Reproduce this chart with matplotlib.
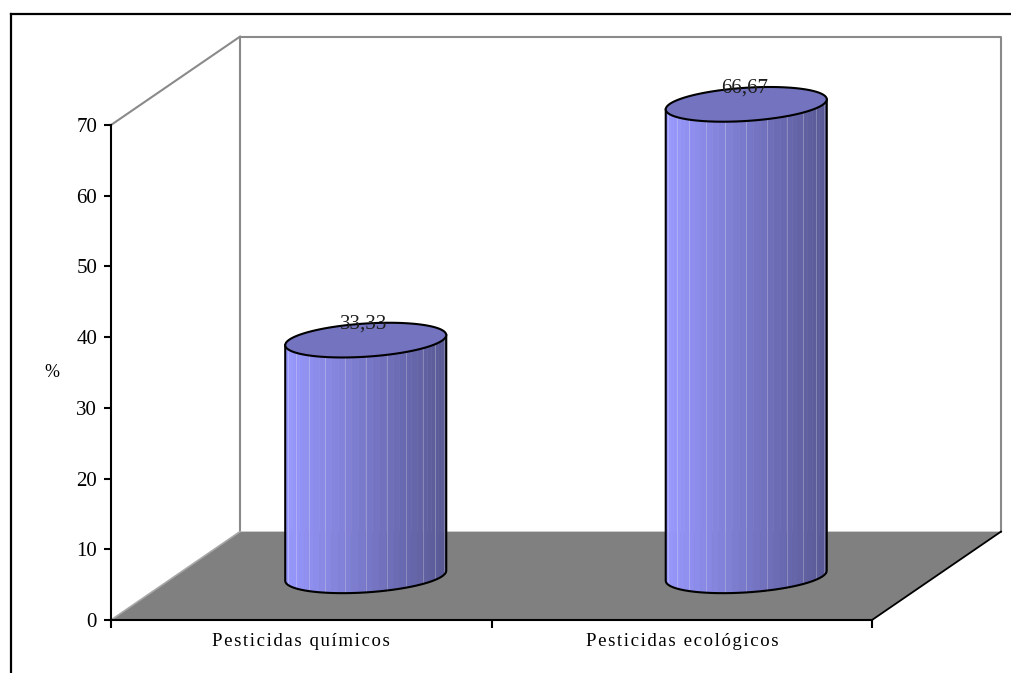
import numpy as np
import matplotlib
matplotlib.use('Agg')
import matplotlib.pyplot as plt
from matplotlib.patches import Polygon
from matplotlib.lines import Line2D

# ---- data -------------------------------------------------------------
categories = ['Pesticidas químicos', 'Pesticidas ecológicos']
values = [33.33, 66.67]
y_ticks = [0, 10, 20, 30, 40, 50, 60, 70]
y_label = '%'

plt.rcParams['font.family'] = ['Liberation Serif', 'DejaVu Serif']

W, H = 1011, 673
fig = plt.figure(figsize=(W / 100, H / 100), dpi=100)
fig.patch.set_facecolor('white')

# front plane of the 3-D box
ax = fig.add_axes([111 / W, 53 / H, 761 / W, 495 / H])
n = len(categories)
ax.set_xlim(0, n)
ax.set_ylim(y_ticks[0], y_ticks[-1])
ax.patch.set_visible(False)

DX, DY = 0.339, 12.5          # depth offset of the back wall (data units)
YTOP = y_ticks[-1]

# floor
ax.add_patch(Polygon([(0, 0), (n, 0), (n + DX, DY), (DX, DY)], closed=True,
                     fc='#808080', ec='none', zorder=0.5, clip_on=False))
# side wall / back wall outlines
wall = dict(color='#8a8a8a', lw=1.5, clip_on=False, zorder=0.6,
            solid_capstyle='projecting')
ax.plot([0, DX], [YTOP, YTOP + DY], **wall)
ax.plot([DX, DX, n + DX, n + DX], [DY, YTOP + DY, YTOP + DY, DY], **wall)
ax.plot([0, DX], [0, DY], color='#a8a8a8', lw=1.2, clip_on=False, zorder=0.6)
ax.plot([n, n + DX], [0, DY], color='black', lw=1.3, clip_on=False, zorder=0.6)

# cylinders
RX, RY, TILT = 0.2116, 2.35, 0.71
C_LEFT = np.array([153, 153, 255]) / 255
C_RIGHT = np.array([88, 88, 148]) / 255
C_TOP = '#7373C0'


def ring(cx, cy, th):
    return cx + RX * np.cos(th), cy + TILT * np.cos(th) + RY * np.sin(th)


for i, v in enumerate(values):
    cx = i + 0.5 + DX / 2
    base = DY / 2
    top = base + v
    th = np.linspace(np.pi, 2 * np.pi, 37)
    for k in range(len(th) - 1):
        t0, t1 = th[k], th[k + 1]
        xb0, yb0 = ring(cx, base, t0)
        xb1, yb1 = ring(cx, base, t1)
        xt0, yt0 = ring(cx, top, t0)
        xt1, yt1 = ring(cx, top, t1)
        f = (np.cos(0.5 * (t0 + t1)) + 1) / 2
        col = C_LEFT * (1 - f) + C_RIGHT * f
        ax.add_patch(Polygon([(xb0, yb0), (xb1, yb1), (xt1, yt1), (xt0, yt0)],
                             closed=True, fc=col, ec=col, lw=0.4,
                             zorder=2, clip_on=False))
        if k % 3 == 2:
            ax.plot([xb1, xt1], [yb1, yt1], color='white', alpha=0.25,
                    lw=0.7, zorder=2.1, clip_on=False)
    # silhouette: sides and front bottom arc
    xa, ya = ring(cx, base, th)
    xs = np.concatenate([[cx - RX], xa, [cx + RX]])
    ys = np.concatenate([[top - TILT], ya, [top + TILT]])
    ax.plot(xs, ys, color='black', lw=1.5, zorder=2.2, clip_on=False,
            solid_joinstyle='round')
    # top face
    tt = np.linspace(0, 2 * np.pi, 121)
    xe, ye = ring(cx, top, tt)
    ax.add_patch(Polygon(np.column_stack([xe, ye]), closed=True, fc=C_TOP,
                         ec='black', lw=1.5, zorder=2.3, clip_on=False))
    ax.text(cx - 0.005, top + 2.3, f'{v:.2f}'.replace('.', ','),
            ha='center', va='center', fontsize=15, color='#1e1e1e',
            zorder=3, clip_on=False)

# axes styling
for side in ('top', 'right'):
    ax.spines[side].set_visible(False)
for side in ('left', 'bottom'):
    ax.spines[side].set_linewidth(1.5)
    ax.spines[side].set_color('black')
    ax.spines[side].set_zorder(4)

ax.set_yticks(y_ticks)
ax.tick_params(axis='y', direction='out', length=5, width=1.5,
               labelsize=15, pad=5)
ax.set_xticks(range(n + 1))
ax.set_xticklabels([])
ax.tick_params(axis='x', which='major', direction='out', length=6, width=1.5)
ax.set_xticks([i + 0.5 for i in range(n)], minor=True)
ax.set_xticklabels(['\u200a'.join(c) for c in categories], minor=True)
ax.tick_params(axis='x', which='minor', length=0, pad=9, labelsize=13.5)

ax.set_ylabel(y_label, rotation=0, fontsize=13, ha='center', va='center')
ax.yaxis.set_label_coords(-0.0775, 0.5)

# outer chart frame
fx, fy = 11 / W, 1 - 14 / H
fig.add_artist(Line2D([fx, 1.02], [fy, fy], transform=fig.transFigure,
                      color='black', lw=1.6))
fig.add_artist(Line2D([fx, fx], [fy, -0.02], transform=fig.transFigure,
                      color='black', lw=1.6))

fig.savefig('out.png', dpi=100, facecolor='white')
